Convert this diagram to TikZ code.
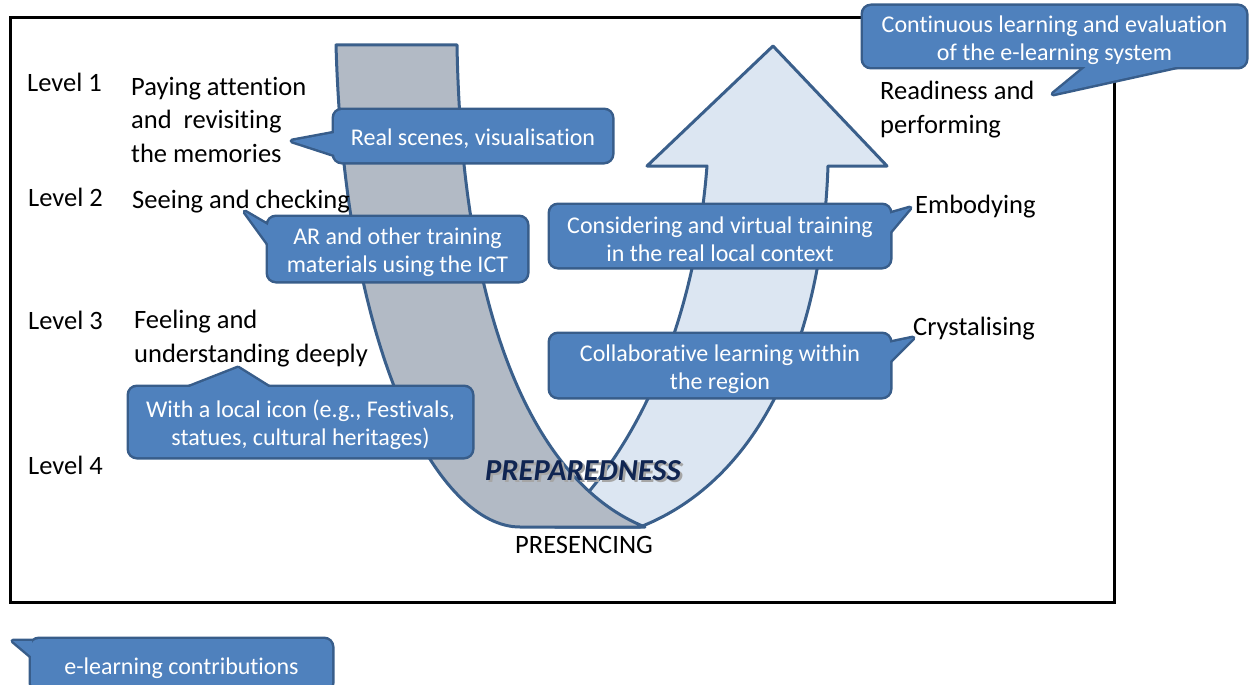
\documentclass[tikz,border=0pt]{standalone}
\usepackage{fontspec}
\setmainfont{Carlito}[Ligatures=NoCommon]
\usepackage{tikz}
\usetikzlibrary{positioning}

\definecolor{grayband}{RGB}{178,186,197}
\definecolor{lightband}{RGB}{220,230,242}
\definecolor{bandline}{RGB}{58,95,139}
\definecolor{callfill}{RGB}{79,129,189}
\definecolor{callline}{RGB}{56,93,138}
\definecolor{navy}{RGB}{16,37,82}

\newcommand{\bodyfont}{\fontsize{26.5}{33.5}\selectfont}
\newcommand{\callfont}{\fontsize{24}{28}\selectfont}

\begin{document}
\begin{tikzpicture}[
  x=1pt, y=-1pt,
  every node/.style={font=\bodyfont, inner sep=0pt},
  band/.style={draw=bandline, line width=3pt, line join=round},
  callout/.style={fill=callfill, rounded corners=8pt, text=white, font=\callfont,
    align=center, preaction={draw=callline, line width=5pt},
    execute at begin node={\rule{0pt}{23pt}}},
  callout2/.style={callout, execute at begin node={\rule{0pt}{52pt}}},
  tailback/.style={draw=callline, line width=5pt, line join=round},
  tailfront/.style={fill=callfill},
  level/.style={anchor=base west},
  stage/.style={anchor=base west, align=left}
]
\clip (0,0) rectangle (1256,685);

% Frame
\draw[line width=3pt] (10,18) rectangle (1114,602);

% Rising arrow
\draw[band, fill=lightband] (707,166) -- (647,166) -- (773,46) -- (887,166) -- (828,166)
  .. controls (822,340) and (760,480) .. (640,527) -- (555,527)
  .. controls (640,450) and (695,320) .. (707,166) -- cycle;

% Falling band
\draw[band, fill=grayband] (336,45) -- (457,45)
  .. controls (462,330) and (540,485) .. (645,527) -- (520,527)
  .. controls (440,527) and (345,360) .. (336,45) -- cycle;

% Levels
\node[level] (lv1) at (27,92) {Level 1};
\node[level] (lv2) at (28,206) {Level 2};
\node[level] (lv3) at (28,329) {Level 3};
\node[level] (lv4) at (28,474) {Level 4};

% Descending stages (base = last line)
\node[stage] (st1) at (131,162) {Paying attention\\and~ revisiting\\the memories};
\node[stage] (st2) at (132,208) {Seeing and checking};
\node[stage] (st3) at (134,362) {Feeling and\\understanding deeply};

% Ascending stages
\node[stage] (up1) at (880,133) {Readiness and\\performing};
\node[stage] (up2) at (915,213) {Embodying};
\node[stage] (up3) at (913,335) {Crystalising};

\node[anchor=base] (bottom) at (584,553) {PRESENCING};
\node[anchor=base, font=\fontsize{30.5}{34}\selectfont\bfseries\itshape, text=black!35]
  at (585.5,482) {PREPAREDNESS};
\node[anchor=base, font=\fontsize{30.5}{34}\selectfont\bfseries\itshape, text=navy]
  (prep) at (583,480) {PREPAREDNESS};

% Callout tails
\coordinate (eval-a) at (1087,66);   \coordinate (eval-t) at (1053,94);  \coordinate (eval-b) at (1180,66);
\coordinate (real-a) at (335,133);   \coordinate (real-t) at (292,141);  \coordinate (real-b) at (335,155);
\coordinate (ar-a) at (269,226);     \coordinate (ar-t) at (245,212);    \coordinate (ar-b) at (269,245);
\coordinate (icon-a) at (187,388);   \coordinate (icon-t) at (238,368);  \coordinate (icon-b) at (270,388);
\coordinate (cons-a) at (889,214);   \coordinate (cons-t) at (910,208);  \coordinate (cons-b) at (889,233);
\coordinate (collab-a) at (889,343); \coordinate (collab-t) at (913,338); \coordinate (collab-b) at (889,362);
\coordinate (contrib-a) at (32,641); \coordinate (contrib-t) at (13,641); \coordinate (contrib-b) at (32,657);

\foreach \c in {eval,real,ar,icon,cons,collab,contrib}
  \draw[tailback] (\c-a) -- (\c-t) -- (\c-b) -- cycle;

% Callout boxes
\node[callout2, minimum width=383, minimum height=61] (eval) at (1054.5,36.5)
  {Continuous learning and evaluation\\of the e-learning system};
\node[callout, minimum width=278, minimum height=52] (real) at (473,136)
  {Real scenes, visualisation};
\node[callout2, minimum width=259, minimum height=64] (ar) at (397.5,249)
  {AR and other training\\materials using the ICT};
\node[callout2, minimum width=343, minimum height=70] (icon) at (300.5,422)
  {With a local icon (e.g., Festivals,\\statues, cultural heritages)};
\node[callout2, minimum width=340, minimum height=62] (cons) at (720,236)
  {Considering and virtual training\\in the real local context};
\node[callout2, minimum width=340, minimum height=63] (collab) at (720,365.5)
  {Collaborative learning within\\the region};
\node[callout, minimum width=301, minimum height=52] (contrib) at (181.5,665)
  {e-learning contributions};

\foreach \c in {eval,real,ar,icon,cons,collab,contrib}
  \fill[tailfront] (\c-a) -- (\c-t) -- (\c-b) -- cycle;

\end{tikzpicture}
\end{document}
